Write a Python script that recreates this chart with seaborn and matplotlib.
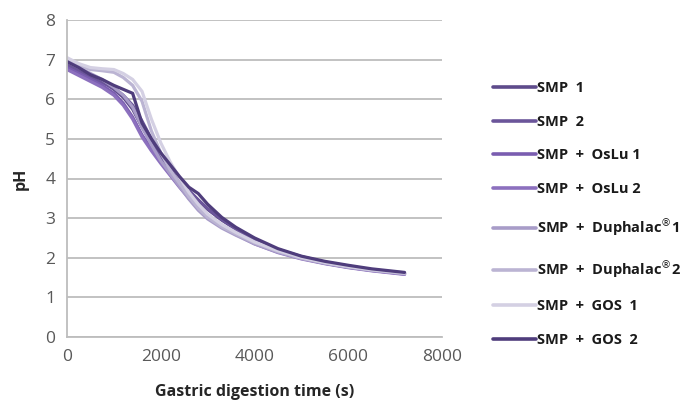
import numpy as np
import pandas as pd
import seaborn as sns
import matplotlib.pyplot as plt

# Values
time_s = [0, 250, 500, 750, 1000, 1200, 1400, 1600, 1800, 2000, 2200, 2400,
          2600, 2800, 3000, 3300, 3600, 4000, 4500, 5000, 5500, 6000, 6500, 7200]

smp_1 = [6.90, 6.75, 6.60, 6.45, 6.25, 6.05, 5.75, 5.30, 4.90, 4.55, 4.25, 3.95,
         3.68, 3.45, 3.22, 2.95, 2.72, 2.45, 2.20, 2.02, 1.89, 1.79, 1.70, 1.61]
smp_2 = [6.85, 6.70, 6.55, 6.42, 6.28, 6.10, 5.85, 5.45, 5.00, 4.60, 4.28, 3.98,
         3.70, 3.46, 3.24, 2.97, 2.74, 2.46, 2.21, 2.03, 1.89, 1.79, 1.69, 1.60]
oslu_1 = [6.80, 6.65, 6.50, 6.35, 6.15, 5.90, 5.55, 5.10, 4.75, 4.42, 4.12, 3.82,
          3.55, 3.30, 3.08, 2.82, 2.62, 2.37, 2.15, 1.99, 1.86, 1.76, 1.68, 1.59]
oslu_2 = [6.75, 6.60, 6.45, 6.30, 6.10, 5.85, 5.50, 5.05, 4.70, 4.38, 4.08, 3.78,
          3.50, 3.26, 3.04, 2.79, 2.59, 2.35, 2.13, 1.97, 1.85, 1.75, 1.67, 1.58]
duph_1 = [6.95, 6.80, 6.65, 6.50, 6.30, 6.10, 5.80, 5.30, 4.85, 4.45, 4.12, 3.80,
          3.48, 3.20, 2.98, 2.75, 2.57, 2.35, 2.14, 1.98, 1.86, 1.76, 1.68, 1.60]
duph_2 = [6.98, 6.85, 6.75, 6.72, 6.68, 6.55, 6.35, 5.95, 5.20, 4.65, 4.22, 3.88,
          3.54, 3.25, 3.02, 2.78, 2.60, 2.38, 2.16, 1.99, 1.87, 1.77, 1.69, 1.60]
gos_1 = [7.05, 6.90, 6.80, 6.77, 6.75, 6.65, 6.50, 6.20, 5.50, 4.90, 4.42, 4.02,
         3.65, 3.35, 3.10, 2.84, 2.64, 2.40, 2.18, 2.01, 1.88, 1.78, 1.70, 1.62]
gos_2 = [6.95, 6.80, 6.62, 6.50, 6.35, 6.25, 6.15, 5.40, 5.00, 4.65, 4.35, 4.05,
         3.78, 3.62, 3.35, 3.02, 2.77, 2.50, 2.23, 2.04, 1.91, 1.81, 1.72, 1.63]

labels = ['SMP  1', 'SMP  2', 'SMP  +  OsLu 1', 'SMP  +  OsLu 2',
          r'SMP  +  Duphalac$^{\circledR}$1', r'SMP  +  Duphalac$^{\circledR}$2',
          'SMP  +  GOS  1', 'SMP  +  GOS  2']
series = [smp_1, smp_2, oslu_1, oslu_2, duph_1, duph_2, gos_1, gos_2]
colors = ['#5e4b8b', '#6b559a', '#7a5db0', '#8c70be',
          '#a89cc8', '#bbb4d3', '#d4d0e3', '#4f3d7c']

df = pd.concat([pd.DataFrame({'time': time_s, 'pH': vals, 'sample': lab})
                for lab, vals in zip(labels, series)], ignore_index=True)

sns.set_style('white')
plt.rcParams['font.family'] = ['Open Sans', 'DejaVu Sans']
plt.rcParams['mathtext.fontset'] = 'dejavusans'

fig = plt.figure(figsize=(6.87, 4.08), dpi=100)
ax = fig.add_axes([0.0975, 0.174, 0.546, 0.777])

sns.lineplot(data=df, x='time', y='pH', hue='sample', hue_order=labels,
             palette=dict(zip(labels, colors)), linewidth=2.3, ax=ax,
             legend=False, sort=False)

ax.set_xlim(0, 8000)
ax.set_ylim(0, 8)
ax.set_xticks(range(0, 8001, 2000))
ax.set_yticks(range(0, 9))
ax.yaxis.grid(True, color='#bdbdbd', linewidth=1.3)
ax.xaxis.grid(False)
ax.set_axisbelow(True)
for side in ['top', 'right']:
    ax.spines[side].set_visible(False)
for side in ['left', 'bottom']:
    ax.spines[side].set_color('#bdbdbd')
    ax.spines[side].set_linewidth(1.3)
ax.tick_params(axis='both', colors='#595959', labelsize=12.5, direction='out',
               length=5, width=1.3)
ax.tick_params(axis='both', color='#bdbdbd')
ax.set_xlabel('Gastric digestion time (s)', fontsize=11.5, fontweight='bold',
              color='#262626', labelpad=14)
ax.set_ylabel('pH', fontsize=11.5, fontweight='bold', color='#262626',
              labelpad=12)

handles = [plt.Line2D([], [], color=c, linewidth=2.6) for c in colors]
leg = fig.legend(handles, labels, loc='upper left',
                 bbox_to_anchor=(0.699, 0.833), frameon=False,
                 handlelength=2.9, handletextpad=0.1, labelspacing=1.34,
                 prop={'weight': 'bold', 'size': 10.5})
for txt in leg.get_texts():
    txt.set_color('#1a1a1a')

fig.savefig('out.png', dpi=100)
